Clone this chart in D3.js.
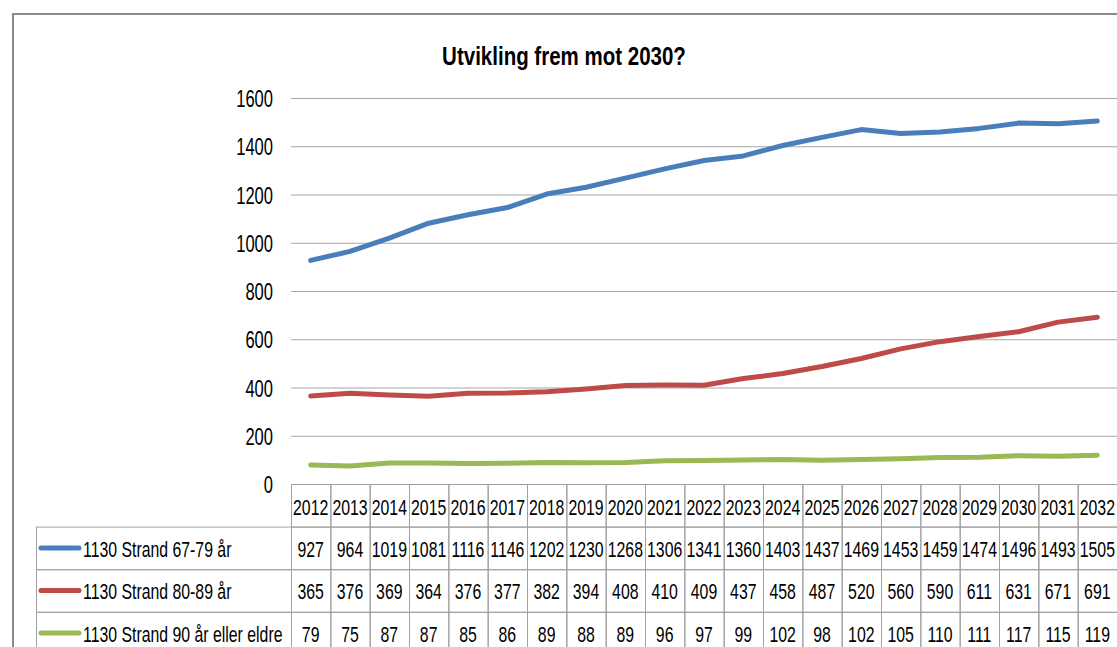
<!DOCTYPE html>
<html>
<head>
<meta charset="utf-8">
<script src="https://cdn.jsdelivr.net/npm/d3@7"></script>
<style>
  body { margin: 0; background: #fff; }
  svg text { font-family: "Liberation Sans", Arial, sans-serif; fill: #000; }
</style>
</head>
<body>
<svg id="chart" width="1117" height="647"></svg>
<script>
var years = ["2012","2013","2014","2015","2016","2017","2018","2019","2020","2021","2022","2023","2024","2025","2026","2027","2028","2029","2030","2031","2032"];
var seriesNames = ["1130 Strand 67-79 år", "1130 Strand 80-89 år", "1130 Strand 90 år eller eldre"];
var colors = ["#4a7ebb", "#be4b48", "#98b954"];
var s6779 = [927,964,1019,1081,1116,1146,1202,1230,1268,1306,1341,1360,1403,1437,1469,1453,1459,1474,1496,1493,1505];
var s8089 = [365,376,369,364,376,377,382,394,408,410,409,437,458,487,520,560,590,611,631,671,691];
var s90 = [79,75,87,87,85,86,89,88,89,96,97,99,102,98,102,105,110,111,117,115,119];
var yTicks = [0,200,400,600,800,1000,1200,1400,1600];

var series = [s6779, s8089, s90];

var svg = d3.select("#chart");
var plotLeft = 291, plotRight = 1117;
var plotTop = 98, plotBottom = 484;
var rowH = 42.6;
var sx = 0.72; // narrow, Calibri-like text

// place a text at (px, py) squeezed horizontally
function narrow(sel, px, py, k) {
  sel.attr("transform", function(d, i) {
    var a = typeof px === "function" ? px(d, i) : px;
    var b = typeof py === "function" ? py(d, i) : py;
    return "translate(" + a + "," + b + ") scale(" + (k || sx) + ",1)";
  });
  return sel;
}

// outer frame
svg.append("path")
  .attr("d", "M13,647 L13,14 L1117,14")
  .attr("fill", "none").attr("stroke", "#8a8a8a").attr("stroke-width", 2);

narrow(svg.append("text")
  .attr("text-anchor", "middle")
  .style("font-size", "25px").style("font-weight", "bold")
  .text("Utvikling frem mot 2030?"), 564, 65, 0.82);

var x = d3.scaleBand().domain(years).range([plotLeft, plotRight]);
var y = d3.scaleLinear().domain([0, 1600]).range([plotBottom, plotTop]);

// gridlines
svg.append("g").selectAll("line")
  .data(yTicks.filter(d => d > 0))
  .enter().append("line")
  .attr("x1", plotLeft).attr("x2", plotRight)
  .attr("y1", d => y(d) + 0.5).attr("y2", d => y(d) + 0.5)
  .attr("stroke", "#a6a6a6").attr("stroke-width", 1);

// y axis labels
narrow(svg.append("g").selectAll("text")
  .data(yTicks)
  .enter().append("text")
  .attr("text-anchor", "end")
  .style("font-size", "23px")
  .text(d => d), 273, d => y(d) + 9);

// lines
var line = d3.line()
  .x((d, i) => x(years[i]) + x.bandwidth() / 2)
  .y(d => y(d));

svg.append("g").selectAll("path")
  .data(series)
  .enter().append("path")
  .attr("d", line)
  .attr("fill", "none")
  .attr("stroke", (d, i) => colors[i])
  .attr("stroke-width", 5)
  .attr("stroke-linejoin", "round")
  .attr("stroke-linecap", "round");

// data table
var tbl = svg.append("g");
var border = "#a0a0a0";
var fs = "22px";
tbl.selectAll(".hcell").data(years).enter().append("rect")
  .attr("x", d => x(d) + 0.5).attr("y", plotBottom + 0.5)
  .attr("width", x.bandwidth()).attr("height", rowH)
  .attr("fill", "none").attr("stroke", border);
narrow(tbl.selectAll(".htext").data(years).enter().append("text")
  .attr("text-anchor", "middle").style("font-size", fs)
  .text(d => d), d => x(d) + x.bandwidth() / 2, plotBottom + 31);

series.forEach(function(vals, si) {
  var ry = plotBottom + rowH * (si + 1);
  tbl.append("rect")
    .attr("x", 36.5).attr("y", ry + 0.5)
    .attr("width", plotLeft - 36).attr("height", rowH)
    .attr("fill", "none").attr("stroke", border);
  tbl.append("line")
    .attr("x1", 41).attr("x2", 79)
    .attr("y1", ry + rowH / 2).attr("y2", ry + rowH / 2)
    .attr("stroke", colors[si]).attr("stroke-width", 5).attr("stroke-linecap", "round");
  narrow(tbl.append("text")
    .style("font-size", fs)
    .text(seriesNames[si]), 83, ry + 30);
  tbl.selectAll(null).data(vals).enter().append("rect")
    .attr("x", (d, i) => x(years[i]) + 0.5).attr("y", ry + 0.5)
    .attr("width", x.bandwidth()).attr("height", rowH)
    .attr("fill", "none").attr("stroke", border);
  narrow(tbl.selectAll(null).data(vals).enter().append("text")
    .attr("text-anchor", "middle").style("font-size", fs)
    .text(d => d), (d, i) => x(years[i]) + x.bandwidth() / 2, ry + 30);
});
</script>
</body>
</html>
